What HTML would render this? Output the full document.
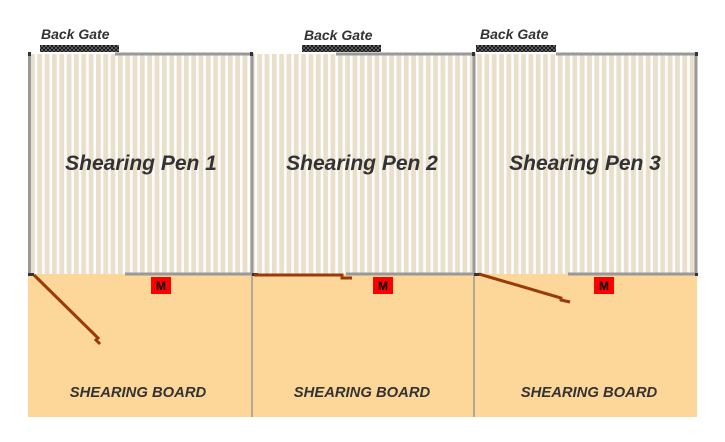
<!DOCTYPE html>
<html><head><meta charset="utf-8"><style>
html,body{margin:0;padding:0;background:#fff;}
svg{display:block;}
text{font-family:"Liberation Sans",sans-serif;font-weight:bold;font-style:italic;fill:#333;}
</style></head><body>
<svg width="725" height="442" viewBox="0 0 725 442" xmlns="http://www.w3.org/2000/svg">
<defs>
<pattern id="st" x="30" y="0" width="7.33" height="10" patternUnits="userSpaceOnUse">
<rect width="7.33" height="10" fill="#fff"/>
<rect x="0" width="4.8" height="10" fill="#eadfcb"/>
</pattern>
<pattern id="hx" width="4" height="4" patternUnits="userSpaceOnUse">
<rect width="4" height="4" fill="#111"/>
<path d="M0 0L4 4M4 0L0 4" stroke="#888" stroke-width="0.6"/>
</pattern>
</defs>
<rect x="28" y="54" width="669" height="220" fill="url(#st)"/>
<rect x="28" y="274" width="669" height="143" fill="#fdd699"/>
<line x1="252" y1="274" x2="252" y2="417" stroke="#999" stroke-width="1.5"/>
<line x1="474" y1="274" x2="474" y2="417" stroke="#999" stroke-width="1.5"/>
<g stroke="#999" stroke-width="3">
<line x1="29.5" y1="53" x2="29.5" y2="274"/>
<line x1="252" y1="53" x2="252" y2="274"/>
<line x1="474" y1="53" x2="474" y2="274"/>
<line x1="696" y1="53" x2="696" y2="274"/>
<line x1="115" y1="54" x2="252" y2="54"/>
<line x1="336" y1="54" x2="474" y2="54"/>
<line x1="556" y1="54" x2="697" y2="54"/>
<line x1="125" y1="274" x2="252" y2="274"/>
<line x1="346" y1="274" x2="474" y2="274"/>
<line x1="568" y1="274" x2="697" y2="274"/>
</g>
<g fill="#333">
<rect x="28" y="52" width="3" height="4"/><rect x="250" y="52" width="3" height="4"/>
<rect x="472" y="52" width="3" height="4"/><rect x="695" y="52" width="3" height="4"/>
<rect x="28" y="273" width="6" height="3"/><rect x="252" y="273" width="6" height="3"/>
<rect x="474" y="273" width="6" height="3"/><rect x="695" y="273" width="3" height="3"/>
</g>
<rect x="40" y="45" width="79" height="7" fill="url(#hx)"/>
<rect x="302" y="45" width="79" height="7" fill="url(#hx)"/>
<rect x="476" y="45" width="80" height="7" fill="url(#hx)"/>
<text x="41" y="39" font-size="14">Back Gate</text>
<text x="304" y="40" font-size="14">Back Gate</text>
<text x="480" y="39" font-size="14">Back Gate</text>
<g stroke="#9a3a0a" stroke-width="3" fill="none">
<path d="M34 275 L98 338 L96 340 L100 344"/>
<path d="M254 275 L342 275 L342 278 L352 278"/>
<path d="M479 274 L561 298 L561 300 L570 302"/>
</g>
<rect x="151" y="277" width="20" height="17" fill="#f00"/>
<rect x="373" y="277" width="20" height="17" fill="#f00"/>
<rect x="594" y="277" width="20" height="17" fill="#f00"/>
<g font-size="12" text-anchor="middle">
<text x="161" y="290" style="font-style:normal;fill:#000">M</text>
<text x="383" y="290" style="font-style:normal;fill:#000">M</text>
<text x="604" y="290" style="font-style:normal;fill:#000">M</text>
</g>
<g font-size="21" text-anchor="middle">
<text x="141" y="170">Shearing Pen 1</text>
<text x="362" y="170">Shearing Pen 2</text>
<text x="585" y="170">Shearing Pen 3</text>
</g>
<g font-size="14.8" text-anchor="middle">
<text x="138" y="397">SHEARING BOARD</text>
<text x="362" y="397">SHEARING BOARD</text>
<text x="589" y="397">SHEARING BOARD</text>
</g>
</svg>
</body></html>
